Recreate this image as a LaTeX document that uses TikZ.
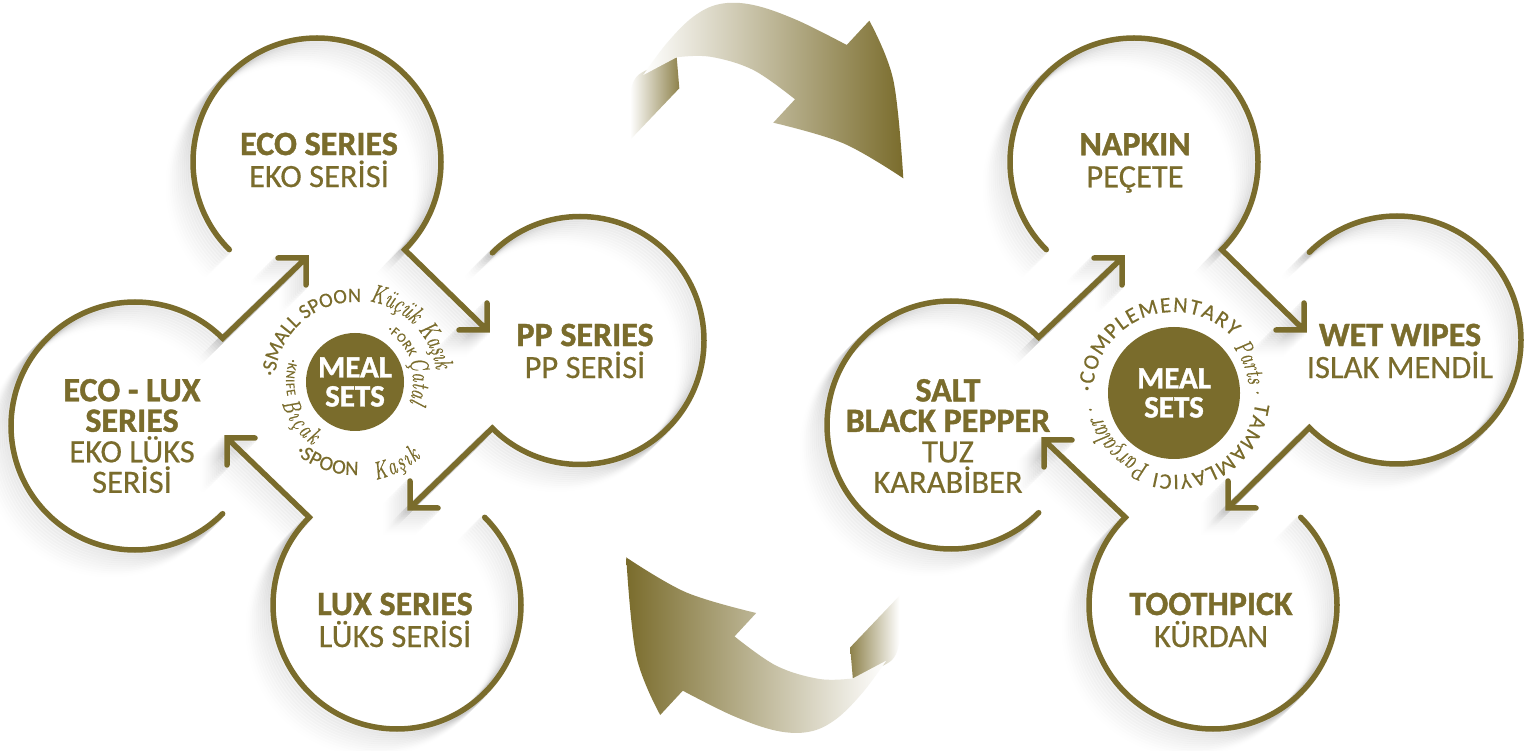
\documentclass[tikz,border=0pt]{standalone}
\usepackage{fontspec}
\setsansfont{Carlito}[UprightFeatures={FakeBold=0.4},BoldFeatures={FakeBold=1.2}]
\newfontfamily\handfam{Latin Modern Roman}[FakeStretch=0.72,FakeBold=0.7]
\usetikzlibrary{decorations.text}
\definecolor{brand}{RGB}{122,108,44}
\tikzset{
  ringline/.style={draw=brand,line width=5.5pt,line cap=round,miter limit=10},
  ringshade/.style={draw=black,line width=7pt,line cap=round},
  label/.style={text=brand,align=center,font=\sffamily\fontsize{32.5}{32}\selectfont,inner sep=0pt},
  tall/.style={label,font=\sffamily\fontsize{32.5}{30.5}\selectfont},
  hub/.style={circle,fill=brand,text=white,align=center,inner sep=0pt,font=\sffamily\bfseries\fontsize{31}{29}\selectfont},
}
\newcommand\boldline[1]{{\bfseries\fontsize{34}{32}\selectfont #1}}
\newcommand\ringshape[5]{(#1)+(#2:124) arc[start angle=#2,delta angle=-270,radius=124] -- (#3) +(#4,0) -- (#3) -- +(0,#5)}
\newcommand\ringitem[5]{%
  \foreach \s in {2,4,...,24}{%
    \pgfmathsetmacro\op{0.032*(26-\s)/24}%
    \begin{scope}[transform canvas={shift={(-\s pt,-\s pt)}}]
    \draw[ringshade,draw opacity=\op] \ringshape{#1}{#2}{#3}{#4}{#5};
    \end{scope}
  }%
  \draw[ringline] \ringshape{#1}{#2}{#3}{#4}{#5};
}
\newcommand\arctext[6]{%
  \path[decorate,decoration={text along path,text align=fit to path,text={|#5|#6}}]
    (#1)+(#3:#2) arc[start angle=#3,end angle=#4,radius=#2];
}
\newcommand\capsA{\color{brand}\sffamily\fontsize{20.5}{20.5}\selectfont}
\newcommand\capsB{\color{brand}\sffamily\fontsize{13}{13}\selectfont}
\newcommand\capsC{\color{brand}\sffamily\fontsize{22}{22}\selectfont}
\newcommand\scriptA{\color{brand}\handfam\itshape\fontsize{26}{26}\selectfont}
\newcommand\scriptB{\color{brand}\handfam\itshape\fontsize{25}{25}\selectfont}
\newcommand\scriptC{\color{brand}\handfam\itshape\fontsize{27}{27}\selectfont}
\newcommand\bigarrow[2]{%
  \shade[left color=#1,right color=#2]
    plot[smooth,tension=.6] coordinates {(630,653.3) (638.3,675) (676.7,692.7)}
    -- (679.3,661.7) -- (630,610) -- cycle;
}
\newcommand\bigarrowmain[2]{%
  \shade[left color=#1,right color=#2]
    plot[smooth,tension=.6] coordinates {(643.3,675) (666.7,706.7) (693.3,733.3) (720,746) (753.3,745) (796.7,730) (846.7,705)}
    -- plot[smooth,tension=.6] coordinates {(869.3,729.3) (893.3,670) (903.3,571.7)}
    -- plot[smooth,tension=.6] coordinates {(903.3,571.7) (843.3,606.7) (773.3,627.3)}
    -- (795,650.7)
    -- plot[smooth,tension=.6] coordinates {(795,650.7) (753.3,680) (710,693.3) (676.7,692.7)}
    -- cycle;
}
\begin{document}
\begin{tikzpicture}[x=1pt,y=1pt]
\useasboundingbox (0,0) rectangle (1536,750);
\fill[white] (0,0) rectangle (1536,750);
% centres
\coordinate (ecoC) at (317,588);
\coordinate (ppC) at (580,409.5);
\coordinate (luxC) at (397,145);
\coordinate (elC) at (135,324);
\coordinate (napC) at (1134,588);
\coordinate (wetC) at (1397,410);
\coordinate (tooC) at (1213,145);
\coordinate (salC) at (951,325);
% arrow tips
\coordinate (ecoTip) at (487,420);
\coordinate (ppTip) at (410,242);
\coordinate (luxTip) at (227,312);
\coordinate (elTip) at (306,492);
\coordinate (napTip) at (1304,420);
\coordinate (wetTip) at (1228,242);
\coordinate (tooTip) at (1044,310);
\coordinate (salTip) at (1122,492);
\ringitem{ecoC}{225}{ecoTip}{-28}{27}
\ringitem{ppC}{135}{ppTip}{28}{27}
\ringitem{luxC}{45}{luxTip}{28}{-27}
\ringitem{elC}{-45}{elTip}{-28}{-27}
\ringitem{napC}{225}{napTip}{-28}{27}
\ringitem{wetC}{135}{wetTip}{28}{27}
\ringitem{tooC}{45}{tooTip}{28}{-27}
\ringitem{salC}{-45}{salTip}{-28}{-27}
% big arrows
\bigarrow{white}{brand!85!white}
\bigarrowmain{white}{brand}
\begin{scope}[rotate around={180:(764.75,382.15)}]
\bigarrow{brand!85!white}{white}
\bigarrowmain{brand}{white}
\end{scope}
% labels
\node[label] (eco) at (319,590) {\boldline{ECO SERIES}\\EKO SERİSİ};
\node[label] (pp) at (585,399) {\boldline{PP SERIES}\\PP SERİSİ};
\node[label] (lux) at (395,130) {\boldline{LUX SERIES}\\LÜKS SERİSİ};
\node[tall] (el) at (132,314) {\boldline{ECO - LUX}\\\boldline{SERIES}\\EKO LÜKS\\SERİSİ};
\node[label] (nap) at (1135,587) {\boldline{NAPKIN}\\PEÇETE};
\node[label] (wet) at (1400,399) {\boldline{WET WIPES}\\ISLAK MENDİL};
\node[label] (too) at (1211,130) {\boldline{TOOTHPICK}\\KÜRDAN};
\node[tall] (sal) at (948,314) {\boldline{SALT}\\\boldline{BLACK PEPPER}\\TUZ\\KARABİBER};
% hubs
\node[hub,minimum size=98pt] (hubL) at (355,368) {MEAL\\SETS};
\node[hub,minimum size=132pt] (hubR) at (1174,357) {MEAL\\SETS};
% rings of text
\arctext{hubL}{80}{176}{88}{\capsA}{·SMALL SPOON}
\arctext{hubL}{82}{80}{9}{\scriptA}{Küçük Kaşık}
\arctext{hubL}{60}{58}{25}{\capsB}{·FORK}
\arctext{hubL}{58}{22}{-20}{\scriptB}{Çatal}
\arctext{hubL}{69}{160}{192}{\capsB}{·KNIFE}
\arctext{hubL}{76}{196}{236}{\scriptB}{Bıçak}
\arctext{hubL}{93}{230}{272}{\capsA}{·SPOON}
\arctext{hubL}{100}{282}{311}{\scriptB}{Kaşık}
\arctext{hubR}{81}{179}{44}{\capsC}{·COMPLEMENTARY}
\arctext{hubR}{75}{38}{-2}{\scriptB}{Parts·}
\arctext{hubR}{82}{-7}{-104}{\capsC}{TAMAMLAYICI}
\arctext{hubR}{76}{-108}{-178}{\scriptC}{Parçalar··}
\end{tikzpicture}
\end{document}
